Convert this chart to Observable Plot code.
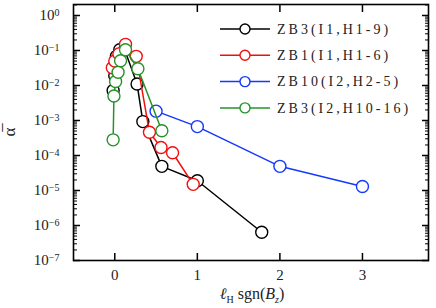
<!DOCTYPE html>
<html><head><meta charset="utf-8">
<script src="https://cdn.jsdelivr.net/npm/d3@7"></script>
<script src="https://cdn.jsdelivr.net/npm/@observablehq/plot@0.6"></script>
<style>
body{margin:0;background:#fff}
svg{font-family:"Liberation Serif","DejaVu Serif",serif}
</style>
</head><body><div id="chart"></div>
<script>
// ---- data ----
const seriesNames = ["ZB3(I1,H1-9)", "ZB1(I1,H1-6)", "ZB10(I2,H2-5)", "ZB3(I2,H10-16)"];
const seriesColors = ["#000000", "#f01010", "#1438ff", "#28922a"];

const zb3i1X = [-0.02, 0.00, 0.01, 0.02, 0.06, 0.12, 0.27, 0.34, 0.57, 1.00, 1.78];
const zb3i1Y = [7.2e-3, 1.9e-2, 3.7e-2, 6.8e-2, 1.05e-1, 1.05e-1, 1.1e-2, 9.3e-4, 4.9e-5, 1.9e-5, 6.4e-7];

const zb1i1X = [-0.03, 0.00, 0.05, 0.13, 0.26, 0.42, 0.56, 0.70, 0.95];
const zb1i1Y = [3.2e-2, 5.0e-2, 8.0e-2, 1.5e-1, 6.8e-2, 4.6e-4, 1.7e-4, 1.2e-4, 1.5e-5];

const zb10i2X = [0.50, 1.00, 2.00, 3.00];
const zb10i2Y = [1.85e-3, 6.7e-4, 4.9e-5, 1.3e-5];

const zb3i2X = [-0.02, -0.01, 0.01, 0.04, 0.07, 0.13, 0.28, 0.57];
const zb3i2Y = [2.8e-4, 5.0e-3, 1.3e-2, 2.4e-2, 5.1e-2, 1.05e-1, 3.0e-2, 5.1e-4];

const xTicks = [0, 1, 2, 3];
const yExponents = [0, -1, -2, -3, -4, -5, -6, -7];

// ---- build ----
const allX = [zb3i1X, zb1i1X, zb10i2X, zb3i2X];
const allY = [zb3i1Y, zb1i1Y, zb10i2Y, zb3i2Y];
const series = seriesNames.map((name, i) => ({
  name, color: seriesColors[i],
  rows: allX[i].map((x, j) => ({x, y: allY[i][j]}))
}));

const yTop = Math.pow(10, 0.314);
const yMajor = yExponents.map(e => Math.pow(10, e));
const yMinor = [];
for (const e of yExponents) for (let m = 2; m <= 9; m++) {
  const v = m * Math.pow(10, e);
  if (v < yTop) yMinor.push(v);
}

const marks = [];
for (const s of series) {
  marks.push(Plot.line(s.rows, {x: "x", y: "y", stroke: s.color, strokeWidth: 1.5}));
  marks.push(Plot.dot(s.rows, {x: "x", y: "y", r: 6, stroke: s.color, strokeWidth: 1.4, fill: "white"}));
}

const tickOnly = {fill: "none", label: null};

const chart = Plot.plot({
  width: 436, height: 308,
  marginLeft: 73, marginRight: 8, marginTop: 4, marginBottom: 48,
  style: {fontFamily: "'Liberation Serif', serif", fontSize: "15px", color: "#000", background: "white"},
  x: {domain: [-0.5, 3.8]},
  y: {type: "log", domain: [1e-7, yTop]},
  marks: [
    ...marks,
    Plot.frame({stroke: "#000", strokeWidth: 1.6}),
    Plot.axisX({anchor: "bottom", ticks: xTicks, tickSize: -7, tickPadding: 16, tickFormat: d => String(d), label: null, strokeWidth: 1.5}),
    Plot.axisX({anchor: "top", ticks: xTicks, tickSize: -7, strokeWidth: 1.5, ...tickOnly}),
    Plot.axisY({anchor: "left", ticks: yMajor, tickSize: -7, tickPadding: 21, tickFormat: d => String(Math.round(Math.log10(d))), label: null, strokeWidth: 1.5}),
    Plot.axisY({anchor: "left", ticks: yMinor, tickSize: -4, strokeWidth: 1, ...tickOnly}),
    Plot.axisY({anchor: "right", ticks: yMajor, tickSize: -7, strokeWidth: 1.5, ...tickOnly}),
    Plot.axisY({anchor: "right", ticks: yMinor, tickSize: -4, strokeWidth: 1, ...tickOnly})
  ]
});
document.getElementById("chart").appendChild(chart);

const svg = d3.select(chart);
// superscript y tick labels
svg.selectAll('g[aria-label="y-axis tick label"] text').each(function () {
  const e = +this.textContent.replace("\u2212", "-");
  const t = d3.select(this);
  t.text("10").style("fill", "#222");
  t.append("tspan").attr("dy", "-0.45em").attr("font-size", "10px")
    .text(e === 0 ? "0" : "\u2212" + Math.abs(e));
});
svg.selectAll('g[aria-label="x-axis tick label"] text').style("fill", "#222");

// y label
svg.append("text")
  .attr("transform", "translate(15,132) rotate(-90)")
  .attr("text-anchor", "middle")
  .attr("font-size", "17px").attr("fill", "#222")
  .text("\u03B1\u0305");

// x label
const xl = svg.append("text")
  .attr("x", 252).attr("y", 299)
  .attr("text-anchor", "middle")
  .attr("font-family", "'Liberation Serif', serif")
  .attr("font-size", "16px").attr("fill", "#222");
xl.append("tspan").attr("font-style", "italic").text("\u2113");
xl.append("tspan").attr("font-size", "10px").attr("dy", "4").text("H");
xl.append("tspan").attr("dy", "-4").text(" sgn(");
xl.append("tspan").attr("font-style", "italic").text("B");
xl.append("tspan").attr("font-size", "10px").attr("font-style", "italic").attr("dy", "4").text("z");
xl.append("tspan").attr("dy", "-4").text(")");

// legend
const lg = svg.append("g");
series.forEach((s, i) => {
  const y = 29 + i * 26.3;
  lg.append("line").attr("x1", 220).attr("x2", 270).attr("y1", y).attr("y2", y)
    .attr("stroke", s.color).attr("stroke-width", 1.5);
  lg.append("circle").attr("cx", 245).attr("cy", y).attr("r", 5)
    .attr("stroke", s.color).attr("stroke-width", 1.4).attr("fill", "white");
  lg.append("text").attr("x", 277).attr("y", y).attr("dy", "0.34em")
    .attr("text-anchor", "start")
    .attr("font-size", "14px").attr("letter-spacing", "3px").attr("fill", "#222")
    .text(s.name);
});
</script>
</body></html>
